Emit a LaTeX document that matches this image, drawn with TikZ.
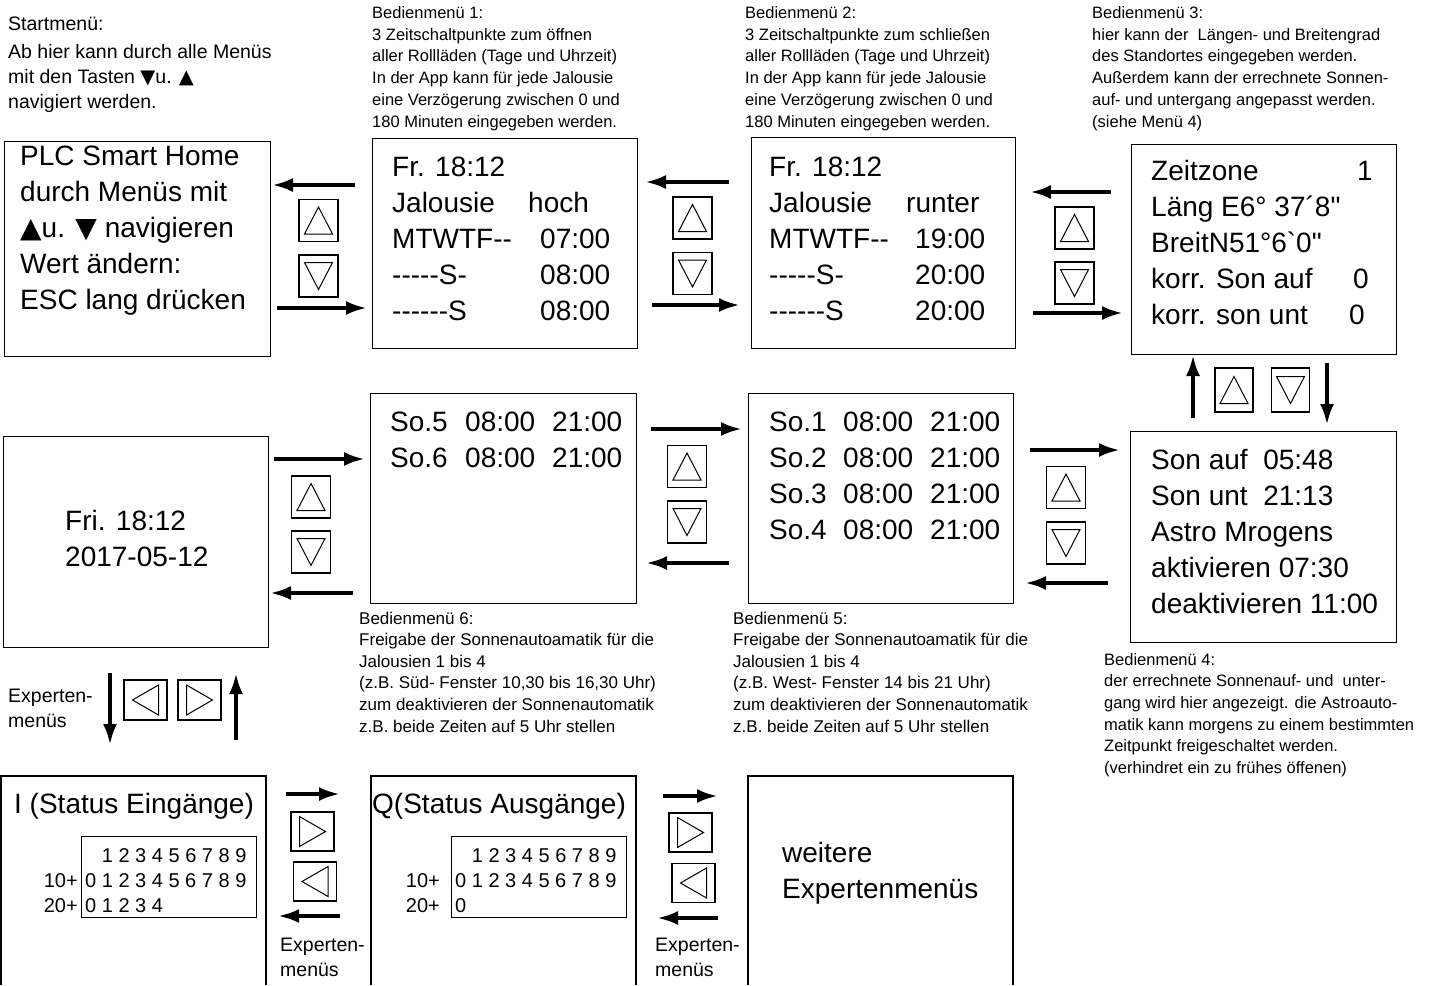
\documentclass[tikz,border=0pt]{standalone}
\usepackage{fontspec}
\newfontfamily\lib{Liberation Sans}
\newfontfamily\symf{DejaVu Sans}
\usetikzlibrary{arrows.meta}
\newcommand\lines[1]{\vtop{\halign{##\hfil\cr#1\crcr}}}
\begin{document}
\begin{tikzpicture}[x=1pt,y=-1pt,
  screen/.style={draw,line width=1.1pt,inner sep=0,anchor=north west},
  big/.style={font=\lib\fontsize{28}{36}\selectfont,inner sep=0,anchor=base west},
  note/.style={font=\lib\fontsize{16.5}{21.7}\selectfont,inner sep=0,anchor=base west},
  bnote/.style={font=\lib\fontsize{17}{21.6}\selectfont,inner sep=0,anchor=base west},
  lab/.style={font=\lib\fontsize{19.5}{25.3}\selectfont,inner sep=0,anchor=base west},
  dig/.style={font=\lib\fontsize{20}{25}\selectfont,inner sep=0,anchor=base west},
  nav/.style={line width=3.9pt,-{Latex[length=21pt,width=14pt]}},
  tri/.style={line width=1pt,line join=miter},
  vbtn/.style={draw,line width=1.1pt,inner sep=0,minimum width=39pt,minimum height=42pt},
  hbtn/.style={draw,line width=1.1pt,inner sep=0,minimum width=43pt,minimum height=40pt},
  upbtn/.style={vbtn,path picture={\draw[tri] ([shift={(0,-13.5)}]path picture bounding box.center) -- ++(14,27) -- ++(-28,0) -- cycle;}},
  dnbtn/.style={vbtn,path picture={\draw[tri] ([shift={(0,13.5)}]path picture bounding box.center) -- ++(14,-27) -- ++(-28,0) -- cycle;}},
  rtbtn/.style={hbtn,path picture={\draw[tri] ([shift={(13,0)}]path picture bounding box.center) -- ++(-26,-15) -- ++(0,30) -- cycle;}},
  ltbtn/.style={hbtn,path picture={\draw[tri] ([shift={(-13,0)}]path picture bounding box.center) -- ++(26,-15) -- ++(0,30) -- cycle;}}
]
\useasboundingbox (0,0) rectangle (1450,985);

% ---------- screens ----------
\node[screen,minimum width=266pt,minimum height=215pt] (A) at (4,141) {};
\node[screen,minimum width=265pt,minimum height=210pt] (B) at (372,138) {};
\node[screen,minimum width=264pt,minimum height=211pt] (C) at (751,137) {};
\node[screen,minimum width=265pt,minimum height=210pt] (D) at (1131,144) {};
\node[screen,minimum width=266pt,minimum height=211pt] (E) at (1130,431) {};
\node[screen,minimum width=265pt,minimum height=210pt] (F) at (748,393) {};
\node[screen,minimum width=266pt,minimum height=210pt] (G) at (370,393) {};
\node[screen,minimum width=265pt,minimum height=211pt] (H) at (3,436) {};
\draw[line width=1.1pt] (1,985) -- (1,776) -- (266,776) -- (266,985);
\draw[line width=1.1pt] (371,985) -- (371,776) -- (636,776) -- (636,985);
\draw[line width=1.1pt] (748,985) -- (748,776) -- (1013,776) -- (1013,985);
\node[screen,minimum width=175pt,minimum height=81pt] (Ib) at (81,836) {};
\node[screen,minimum width=175pt,minimum height=81pt] (Jb) at (451,836) {};

% ---------- notes ----------
\node[lab] (n0) at (8,30) {Startmenü:};
\node[lab] (n0b) at (8,58) {\lines{Ab hier kann durch alle Menüs\cr mit den Tasten {\symf ▼}u. {\symf ▲}\cr navigiert werden.}};
\node[note] (n1) at (372,18.5) {\lines{Bedienmenü 1:\cr 3 Zeitschaltpunkte zum öffnen\cr aller Rollläden (Tage und Uhrzeit)\cr In der App kann für jede Jalousie\cr eine Verzögerung zwischen 0 und\cr 180 Minuten eingegeben werden.}};
\node[note] (n2) at (745,18.5) {\lines{Bedienmenü 2:\cr 3 Zeitschaltpunkte zum schließen\cr aller Rollläden (Tage und Uhrzeit)\cr In der App kann für jede Jalousie\cr eine Verzögerung zwischen 0 und\cr 180 Minuten eingegeben werden.}};
\node[note] (n3) at (1092,18.5) {\lines{Bedienmenü 3:\cr hier kann der\ \ Längen- und Breitengrad\cr des Standortes eingegeben werden.\cr Außerdem kann der errechnete Sonnen-\cr auf- und untergang angepasst werden.\cr (siehe Menü 4)}};
\node[note] (n4) at (1104,665) {\lines{Bedienmenü 4:\cr der errechnete Sonnenauf- und\ \ unter-\cr gang wird hier angezeigt. die Astroauto-\cr matik kann morgens zu einem bestimmten\cr Zeitpunkt freigeschaltet werden.\cr (verhindret ein zu frühes öffenen)}};
\node[bnote] (n5) at (733,624) {\lines{Bedienmenü 5:\cr Freigabe der Sonnenautoamatik für die\cr Jalousien 1 bis 4\cr (z.B. West- Fenster 14 bis 21 Uhr)\cr zum deaktivieren der Sonnenautomatik\cr z.B. beide Zeiten auf 5 Uhr stellen}};
\node[bnote] (n6) at (359,624) {\lines{Bedienmenü 6:\cr Freigabe der Sonnenautoamatik für die\cr Jalousien 1 bis 4\cr (z.B. Süd- Fenster 10,30 bis 16,30 Uhr)\cr zum deaktivieren der Sonnenautomatik\cr z.B. beide Zeiten auf 5 Uhr stellen}};
\node[lab] (x1) at (8,702) {\lines{Experten-\cr menüs}};
\node[lab] (x2) at (280,951) {\lines{Experten-\cr menüs}};
\node[lab] (x3) at (655,951) {\lines{Experten-\cr menüs}};

% ---------- screen texts ----------
\node[big] (tA) at (20,165) {\lines{PLC Smart Home\cr durch Menüs mit\cr {\symf ▲}u. {\symf ▼} navigieren\cr Wert ändern:\cr ESC lang drücken}};
\node[big] (tB) at (392,176) {\lines{Fr. 18:12\cr Jalousie\cr MTWTF--\cr -----S-\cr ------S}};
\node[big] (tB2) at (528,212) {hoch};
\node[big] (tB3) at (540,248) {\lines{07:00\cr 08:00\cr 08:00}};
\node[big] (tC) at (769,176) {\lines{Fr. 18:12\cr Jalousie\cr MTWTF--\cr -----S-\cr ------S}};
\node[big] (tC2) at (906,212) {runter};
\node[big] (tC3) at (915,248) {\lines{19:00\cr 20:00\cr 20:00}};
\node[big] (tD) at (1151,180) {\lines{Zeitzone\cr Läng E6° 37´8"\cr BreitN51°6`0"\cr korr. Son auf\cr korr. son unt}};
\node[big] (tD2) at (1357,180) {1};
\node[big] (tD3) at (1353,288) {0};
\node[big] (tD4) at (1349,324) {0};
\node[big] (tE) at (1151,469) {\lines{Son auf\ \ 05:48\cr Son unt\ \ 21:13\cr Astro Mrogens\cr aktivieren 07:30\cr deaktivieren 11:00}};
\node[big] (tF) at (769,431) {\lines{So.1\cr So.2\cr So.3\cr So.4}};
\node[big] (tF2) at (843,431) {\lines{08:00\cr 08:00\cr 08:00\cr 08:00}};
\node[big] (tF3) at (930,431) {\lines{21:00\cr 21:00\cr 21:00\cr 21:00}};
\node[big] (tG) at (390,431) {\lines{So.5\cr So.6}};
\node[big] (tG2) at (465,431) {\lines{08:00\cr 08:00}};
\node[big] (tG3) at (552,431) {\lines{21:00\cr 21:00}};
\node[big] (tH) at (65,530) {\lines{Fri. 18:12\cr 2017-05-12}};
\node[big] (tI) at (14,813) {I (Status Eingänge)};
\node[dig] (dI) at (85,862) {\lines{\phantom{0} 1 2 3 4 5 6 7 8 9\cr 0 1 2 3 4 5 6 7 8 9\cr 0 1 2 3 4}};
\node[dig,anchor=base east] (lI) at (78,887) {\lines{10+\cr 20+}};
\node[big] (tJ) at (372,813) {Q(Status Ausgänge)};
\node[dig] (dJ) at (455,862) {\lines{\phantom{0} 1 2 3 4 5 6 7 8 9\cr 0 1 2 3 4 5 6 7 8 9\cr 0}};
\node[dig,anchor=base east] (lJ) at (440,887) {\lines{10+\cr 20+}};
\node[big] (tK) at (782,862) {\lines{weitere\cr Expertenmenüs}};

% ---------- buttons ----------
\node[upbtn] (bAB1) at (318.5,220.5) {};
\node[dnbtn] (bAB2) at (318.5,276) {};
\node[upbtn] (bBC1) at (692.5,218) {};
\node[dnbtn] (bBC2) at (692.5,273.5) {};
\node[upbtn] (bCD1) at (1074.5,228) {};
\node[dnbtn] (bCD2) at (1074.5,283) {};
\node[upbtn,minimum width=38pt,minimum height=44pt] (bDE1) at (1234,390) {};
\node[dnbtn,minimum width=38pt,minimum height=44pt] (bDE2) at (1290.5,390) {};
\node[upbtn] (bFE1) at (1066,487.5) {};
\node[dnbtn] (bFE2) at (1066,543) {};
\node[upbtn] (bGF1) at (687,466.5) {};
\node[dnbtn] (bGF2) at (687,522) {};
\node[upbtn] (bHG1) at (311,497) {};
\node[dnbtn] (bHG2) at (311,552) {};
\node[ltbtn] (bHI1) at (145.5,700) {};
\node[rtbtn] (bHI2) at (199.5,700) {};
\node[rtbtn,minimum height=39pt] (bIJ1) at (312.5,831.5) {};
\node[ltbtn,minimum height=39pt] (bIJ2) at (315,881.5) {};
\node[rtbtn,minimum height=39pt] (bJK1) at (690.5,832.5) {};
\node[ltbtn,minimum height=39pt] (bJK2) at (693.5,883) {};

% ---------- arrows ----------
\coordinate (ab1s) at (355,185);  \coordinate (ab1e) at (272,185);
\coordinate (ab2s) at (277,308);  \coordinate (ab2e) at (367,308);
\coordinate (bc1s) at (729,182);  \coordinate (bc1e) at (645,182);
\coordinate (bc2s) at (652,305);  \coordinate (bc2e) at (740,305);
\coordinate (cd1s) at (1111,192); \coordinate (cd1e) at (1030,192);
\coordinate (cd2s) at (1033,313); \coordinate (cd2e) at (1123,313);
\coordinate (de1s) at (1193,418); \coordinate (de1e) at (1193,355);
\coordinate (de2s) at (1327,363); \coordinate (de2e) at (1327,425);
\coordinate (fe1s) at (1030,450); \coordinate (fe1e) at (1120,450);
\coordinate (fe2s) at (1108,583); \coordinate (fe2e) at (1025,583);
\coordinate (gf1s) at (651,429);  \coordinate (gf1e) at (742,429);
\coordinate (gf2s) at (729,563);  \coordinate (gf2e) at (646,563);
\coordinate (hg1s) at (274,459);  \coordinate (hg1e) at (365,459);
\coordinate (hg2s) at (353,593);  \coordinate (hg2e) at (270,593);
\coordinate (hi1s) at (110,673);  \coordinate (hi1e) at (110,745);
\coordinate (hi2s) at (236,740);  \coordinate (hi2e) at (236,673);
\coordinate (ij1s) at (286,794);  \coordinate (ij1e) at (340,794);
\coordinate (ij2s) at (340,916);  \coordinate (ij2e) at (278,916);
\coordinate (jk1s) at (663,796);  \coordinate (jk1e) at (718,796);
\coordinate (jk2s) at (718,918);  \coordinate (jk2e) at (657,918);
\foreach \p in {ab1,ab2,bc1,bc2,cd1,cd2,de1,de2,fe1,fe2,gf1,gf2,hg1,hg2,hi1,hi2,ij1,ij2,jk1,jk2}
  \draw[nav] (\p s) -- (\p e);
\end{tikzpicture}
\end{document}
